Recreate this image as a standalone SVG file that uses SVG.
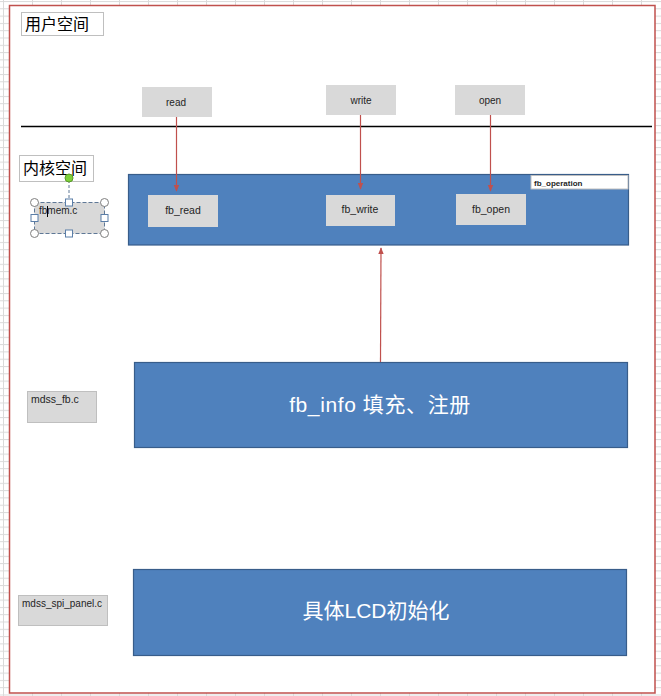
<svg xmlns="http://www.w3.org/2000/svg" width="661" height="696" viewBox="0 0 661 696">
<defs>
<pattern id="grid" x="3" y="1" width="29" height="7.3" patternUnits="userSpaceOnUse">
<rect width="29" height="7.3" fill="#ffffff"/>
<line x1="0" y1="0.5" x2="29" y2="0.5" stroke="#dadada" stroke-width="1"/>
<line x1="0.5" y1="0" x2="0.5" y2="7.3" stroke="#dadada" stroke-width="1"/>
</pattern>
<marker id="ah" viewBox="0 0 10 10" refX="9" refY="5" markerWidth="7" markerHeight="7" orient="auto-start-reverse" markerUnits="userSpaceOnUse">
<path d="M0,1 L10,5 L0,9 z" fill="#c0504d"/>
</marker>
<style>
.lbl{font-family:"Liberation Sans","Noto Sans CJK SC",sans-serif;fill:#1f1f1f}
.gray{fill:#d9d9d9}
.blue{fill:#4f81bd;stroke:#385d8a;stroke-width:1.2}
.cn{font-family:"Noto Sans CJK SC","Liberation Sans",sans-serif;fill:#000}
.wt{font-family:"Liberation Sans","Noto Sans CJK SC",sans-serif;fill:#ffffff;font-size:21px}
.conn{stroke:#c0504d;stroke-width:1.2;fill:none}
.h{fill:#ffffff;stroke:#7f7f7f;stroke-width:1}
.hs{fill:#ffffff;stroke:#5b7ea8;stroke-width:1}
</style>
</defs>
<rect width="661" height="696" fill="url(#grid)"/>
<rect x="9.5" y="5.5" width="645.5" height="687.5" fill="#ffffff" stroke="#c0504d" stroke-width="1.5"/>

<g id="user-space">
<rect x="21.5" y="12.5" width="82" height="23" fill="#ffffff" stroke="#bfbfbf"/>
<text class="cn" x="25" y="30" font-size="16">用户空间</text>
</g>
<line x1="21" y1="126.5" x2="652" y2="126.5" stroke="#000" stroke-width="1.5"/>

<g id="read"><rect class="gray" x="142" y="87" width="70" height="30"/><text class="lbl" x="176" y="106" font-size="10" text-anchor="middle">read</text></g>
<g id="write"><rect class="gray" x="326" y="85" width="70" height="30"/><text class="lbl" x="361" y="104" font-size="10" text-anchor="middle">write</text></g>
<g id="open"><rect class="gray" x="455" y="85" width="70" height="30"/><text class="lbl" x="490" y="104" font-size="10" text-anchor="middle">open</text></g>

<g id="kernel-space">
<rect x="19.5" y="155.5" width="74" height="26" fill="#ffffff" stroke="#bfbfbf"/>
<text class="cn" x="23" y="174" font-size="16">内核空间</text>
</g>

<g id="fb_operation">
<rect class="blue" x="128.5" y="174.5" width="500" height="70.5"/>
<rect x="531" y="175.5" width="97" height="13.5" fill="#ffffff" stroke="#bfbfbf"/>
<text class="lbl" x="534" y="185.5" font-size="8" font-weight="bold" fill="#000">fb_operation</text>
</g>
<g id="fb_read"><rect class="gray" x="148" y="195" width="70" height="32"/><text class="lbl" x="183" y="214" font-size="10.5" text-anchor="middle">fb_read</text></g>
<g id="fb_write"><rect class="gray" x="326" y="195" width="69" height="31"/><text class="lbl" x="360" y="213" font-size="10.5" text-anchor="middle">fb_write</text></g>
<g id="fb_open"><rect class="gray" x="456" y="194" width="70" height="31"/><text class="lbl" x="491" y="213" font-size="10.5" text-anchor="middle">fb_open</text></g>

<g id="fbmem">
<rect x="34.5" y="202.5" width="70" height="31" fill="#d9d9d9" stroke="#5f7896" stroke-dasharray="4,2"/>
<text class="lbl" x="39" y="214" font-size="10">fbmem.c</text>
<line x1="47.5" y1="206" x2="47.5" y2="217" stroke="#000" stroke-width="1"/>
<line x1="69" y1="180" x2="69" y2="202" stroke="#5f7896" stroke-dasharray="3,2"/>
<circle cx="69" cy="178" r="4" fill="#7ed23a" stroke="#5a9a2a"/>
<circle class="h" cx="34.5" cy="202.5" r="4"/><circle class="h" cx="104.5" cy="202.5" r="4"/>
<circle class="h" cx="34.5" cy="233.5" r="4"/><circle class="h" cx="104.5" cy="233.5" r="4"/>
<rect class="hs" x="65.5" y="199" width="7" height="7"/><rect class="hs" x="65.5" y="230" width="7" height="7"/>
<rect class="hs" x="31" y="214.5" width="7" height="7"/><rect class="hs" x="101" y="214.5" width="7" height="7"/>
</g>

<g id="mdss_fb"><rect x="27.5" y="391.5" width="69" height="31" fill="#d9d9d9" stroke="#bfbfbf"/><text class="lbl" x="31" y="403" font-size="10.5">mdss_fb.c</text></g>
<g id="fb_info"><rect class="blue" x="134.5" y="362.5" width="493" height="85"/><text class="wt" x="380" y="412" text-anchor="middle" letter-spacing="0.6">fb_info 填充、注册</text></g>

<g id="mdss_spi_panel"><rect x="18.5" y="595.5" width="89" height="30" fill="#d9d9d9" stroke="#bfbfbf"/><text class="lbl" x="22" y="607" font-size="10">mdss_spi_panel.c</text></g>
<g id="lcd_init"><rect class="blue" x="133.5" y="569.5" width="493" height="86"/><text class="wt" x="376" y="618" text-anchor="middle">具体LCD初始化</text></g>

<g id="connectors">
<line class="conn" x1="176.5" y1="117" x2="176.5" y2="191" marker-end="url(#ah)"/>
<line class="conn" x1="360.5" y1="115" x2="360.5" y2="189" marker-end="url(#ah)"/>
<line class="conn" x1="490.5" y1="115" x2="490.5" y2="191" marker-end="url(#ah)"/>
<line class="conn" x1="380.5" y1="362" x2="381" y2="248" marker-end="url(#ah)"/>
</g>
</svg>
